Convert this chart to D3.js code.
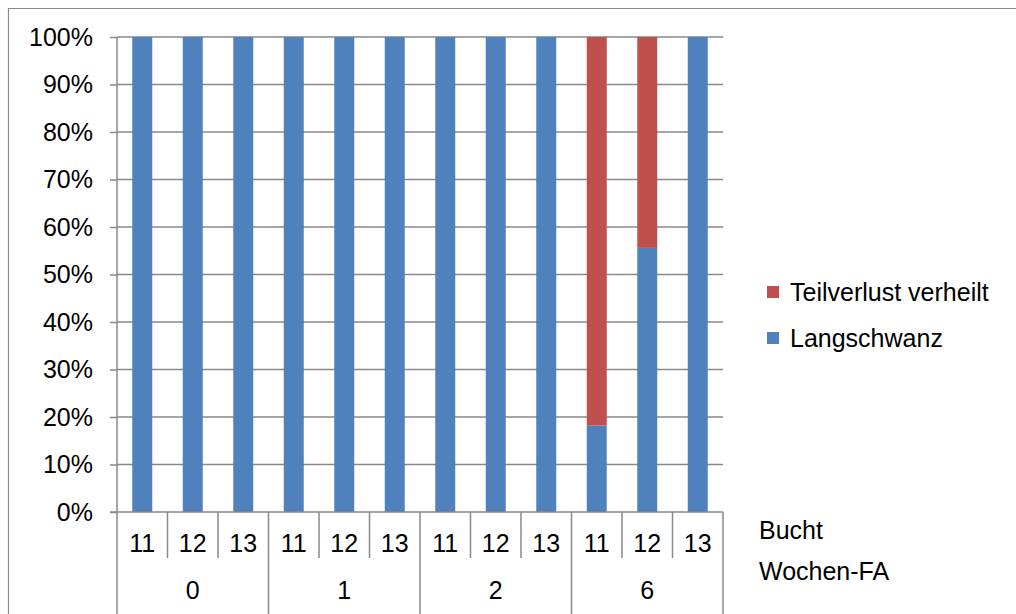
<!DOCTYPE html>
<html>
<head>
<meta charset="utf-8">
<script src="https://cdn.jsdelivr.net/npm/d3@7"></script>
<style>
  html, body { margin: 0; padding: 0; background: #fff; }
  svg { display: block; font-family: "Liberation Sans", Arial, sans-serif; }
</style>
</head>
<body>
<svg id="chart" width="1016" height="614"></svg>
<script>
// Week groups (Wochen-FA) and pens (Bucht) within each week
const weeks = ["0", "1", "2", "6"];
const pens = ["11", "12", "13"];
// Share of animals per pen, percent
const langschwanz = [100, 100, 100, 100, 100, 100, 100, 100, 100, 18.2, 55.6, 100];
const teilverlust = [0, 0, 0, 0, 0, 0, 0, 0, 0, 81.8, 44.4, 0];
const yTicks = [0, 10, 20, 30, 40, 50, 60, 70, 80, 90, 100];
const seriesNames = ["Teilverlust verheilt", "Langschwanz"];
const colors = { "Langschwanz": "#4F81BD", "Teilverlust verheilt": "#C0504D" };

const rows = [];
weeks.forEach((w, wi) => pens.forEach((p, pi) => {
  const i = wi * pens.length + pi;
  rows.push({ key: w + "-" + p, week: w, pen: p, Langschwanz: langschwanz[i], "Teilverlust verheilt": teilverlust[i] });
}));

const svg = d3.select("#chart");
const plotLeft = 117, plotRight = 723, plotTop = 37, plotBottom = 512;
const gridColor = "#898989";
const fontSize = 25;

// Outer frame (open to the right and bottom)
svg.append("path")
  .attr("d", `M8.5,614 L8.5,8.5 L1016,8.5`)
  .attr("fill", "none").attr("stroke", gridColor).attr("stroke-width", 1.2);

const x = d3.scaleBand().domain(rows.map(d => d.key)).range([plotLeft, plotRight]).paddingInner(0).paddingOuter(0);
const y = d3.scaleLinear().domain([0, 100]).range([plotBottom, plotTop]);

// Gridlines
svg.append("g").selectAll("line").data(yTicks.filter(t => t > 0)).join("line")
  .attr("x1", plotLeft).attr("x2", plotRight)
  .attr("y1", d => y(d)).attr("y2", d => y(d))
  .attr("stroke", gridColor).attr("stroke-width", 1.5);

// Y axis
const yAxis = d3.axisLeft(y).tickValues(yTicks).tickFormat(d => d + "%").tickSize(7).tickPadding(17);
const ya = svg.append("g").attr("transform", `translate(${plotLeft},0)`).call(yAxis);
ya.select(".domain").remove();
ya.selectAll(".tick line").attr("stroke", gridColor).attr("stroke-width", 1.5);
ya.selectAll(".tick text").attr("font-size", fontSize).attr("fill", "#000")
  .attr("font-family", "Liberation Sans, Arial, sans-serif");
svg.append("line").attr("x1", plotLeft).attr("x2", plotLeft).attr("y1", plotTop).attr("y2", plotBottom)
  .attr("stroke", gridColor).attr("stroke-width", 1.5);

// Stacked bars
const stack = d3.stack().keys(["Langschwanz", "Teilverlust verheilt"]);
const stacked = stack(rows);
const barW = 20;
svg.append("g").selectAll("g").data(stacked).join("g")
  .attr("fill", d => colors[d.key])
  .selectAll("rect").data(d => d.filter(s => s[1] - s[0] > 0)).join("rect")
  .attr("x", d => x(d.data.key) + x.bandwidth() / 2 - barW / 2)
  .attr("width", barW)
  .attr("y", d => y(d[1]))
  .attr("height", d => y(d[0]) - y(d[1]));

// X axis baseline
svg.append("line").attr("x1", plotLeft - 7).attr("x2", plotRight).attr("y1", plotBottom).attr("y2", plotBottom)
  .attr("stroke", gridColor).attr("stroke-width", 1.5);

// Category separators: pens (short) and weeks (long)
const bounds = d3.range(rows.length + 1);
svg.append("g").selectAll("line").data(bounds).join("line")
  .attr("x1", i => plotLeft + i * x.step()).attr("x2", i => plotLeft + i * x.step())
  .attr("y1", plotBottom)
  .attr("y2", i => (i % pens.length === 0) ? 614 : 558)
  .attr("stroke", gridColor).attr("stroke-width", 1.5);

// Pen labels
svg.append("g").selectAll("text").data(rows).join("text")
  .attr("x", d => x(d.key) + x.bandwidth() / 2)
  .attr("y", 552)
  .attr("text-anchor", "middle").attr("font-size", fontSize)
  .text(d => d.pen);

// Week labels
svg.append("g").selectAll("text").data(weeks).join("text")
  .attr("x", (w, wi) => plotLeft + (wi * pens.length + pens.length / 2) * x.step())
  .attr("y", 599)
  .attr("text-anchor", "middle").attr("font-size", fontSize)
  .text(d => d);

// Axis level titles
svg.append("text").attr("x", 759).attr("y", 539).attr("font-size", fontSize).text("Bucht");
svg.append("text").attr("x", 759).attr("y", 580).attr("font-size", fontSize).text("Wochen-FA");

// Legend
const legend = svg.append("g").selectAll("g").data(seriesNames).join("g")
  .attr("transform", (d, i) => `translate(767,${286 + i * 46})`);
legend.append("rect").attr("width", 12).attr("height", 12).attr("fill", d => colors[d]);
legend.append("text").attr("x", 23).attr("y", 6).attr("dy", "0.35em")
  .attr("font-size", fontSize).text(d => d);
</script>
</body>
</html>
